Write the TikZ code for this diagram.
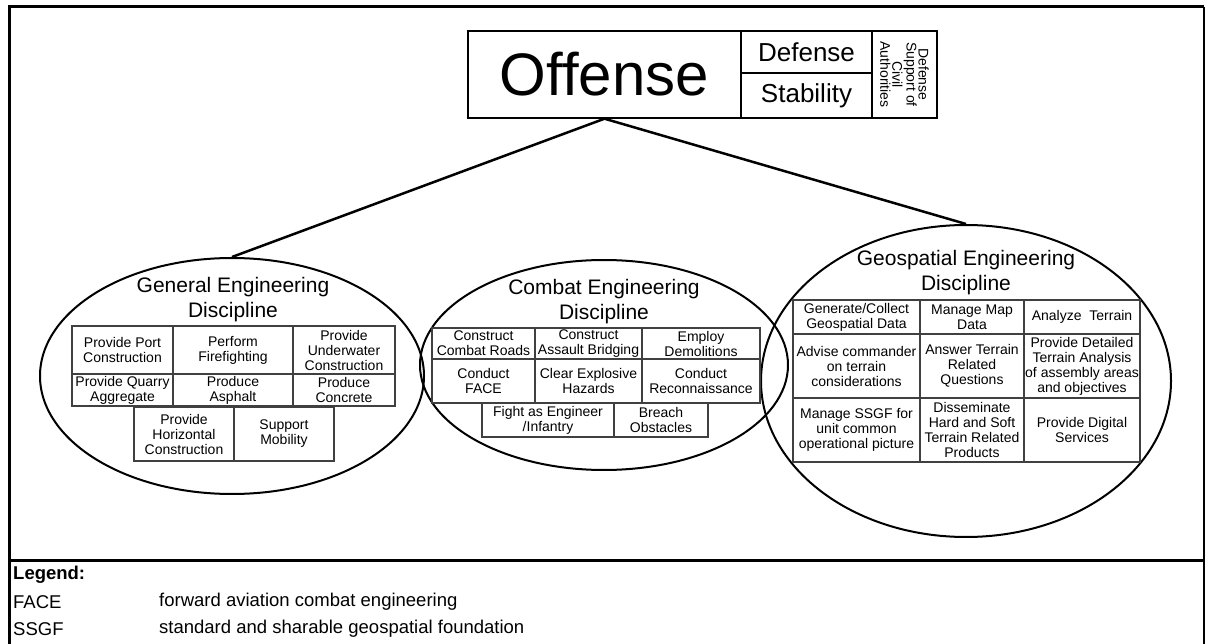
\documentclass[tikz,border=0pt]{standalone}
\usepackage{fontspec}
\setmainfont{Liberation Sans}
\usetikzlibrary{shapes.geometric}

\tikzset{
  disc/.style={draw, ellipse, line width=2pt, inner sep=0pt},
  cell/.style={draw=black!75, line width=1.1pt, inner sep=0pt, align=center,
    font=\fontsize{14}{15}\selectfont},
  topbox/.style={draw, line width=1.4pt, inner sep=0pt, align=center},
  title/.style={align=center, font=\fontsize{21}{25}\selectfont},
  legend/.style={anchor=west, inner sep=0pt, font=\fontsize{18.5}{20}\selectfont},
}

% cell from corner (x1,y1) to (x2,y2)
\newcommand{\cellbox}[6]{%
  \node[cell, minimum width={#4-#2}, minimum height={#5-#3}] (#1)
    at ({(#2+#4)/2},{(#3+#5)/2}) {#6};}

\begin{document}
\begin{tikzpicture}[x=1pt, y=-1pt]
\useasboundingbox (0,0) rectangle (1205,644);

% frame
\draw[line width=3pt] (9,644) -- (9,7) -- (1204,7);
\draw[line width=1.5pt] (1204,7) -- (1204,644);
\draw[line width=3pt] (9,560) -- (1204,560);

% top box
\node[topbox, minimum width=273, minimum height=87, font=\fontsize{60}{62}\selectfont]
  (offense) at (604.5,74.5) {Offense};
\node[topbox, minimum width=131, minimum height=42, font=\fontsize{26}{28}\selectfont]
  (defense) at (806.5,52) {Defense};
\node[topbox, minimum width=131, minimum height=45, font=\fontsize{26}{28}\selectfont]
  (stability) at (806.5,95.5) {Stability};
\node[topbox, rotate=-90, minimum width=87, minimum height=65, font=\fontsize{14}{12}\selectfont]
  (dsca) at (904.5,74.5) {Defense\\Support of\\Civil\\Authorities};

% disciplines
\node[disc, minimum width=384, minimum height=236] (general) at (232,376) {};
\node[disc, minimum width=368, minimum height=210] (combat) at (604,365) {};
\node[disc, minimum width=410, minimum height=312] (geo) at (966,381) {};

\draw[line width=2.5pt] (offense.south) -- (general.north);
\draw[line width=2.5pt] (offense.south) -- (geo.north);

% general engineering
\node[title] (gentitle) at (233,300) {General Engineering\\Discipline};
\cellbox{gen1}{72}{326}{173}{374}{Provide Port\\Construction}
\cellbox{gen2}{173}{326}{293}{374}{Perform\\Firefighting}
\cellbox{gen3}{293}{326}{395}{374}{Provide\\Underwater\\Construction}
\cellbox{gen4}{72}{374}{173}{406}{Provide Quarry\\Aggregate}
\cellbox{gen5}{173}{374}{293}{406}{Produce\\Asphalt}
\cellbox{gen6}{293}{374}{395}{406}{Produce\\Concrete}
\cellbox{gen7}{134}{407}{234}{461}{Provide\\Horizontal\\Construction}
\cellbox{gen8}{234}{407}{334}{461}{Support\\Mobility}

% combat engineering
\node[title] (comtitle) at (604,302) {Combat Engineering\\Discipline};
\cellbox{com1}{432}{328}{535}{359}{Construct\\Combat Roads}
\cellbox{com2}{535}{328}{642}{359}{Construct\\Assault Bridging}
\cellbox{com3}{642}{328}{760}{359}{Employ\\Demolitions}
\cellbox{com4}{432}{359}{535}{403}{Conduct\\FACE}
\cellbox{com5}{535}{359}{642}{403}{Clear Explosive\\Hazards}
\cellbox{com6}{642}{359}{760}{403}{Conduct\\Reconnaissance}
\cellbox{com7}{482}{403}{614}{437}{Fight as Engineer\\/Infantry}
\cellbox{com8}{614}{403}{708}{437}{Breach\\Obstacles}

% geospatial engineering
\node[title] (geotitle) at (966,273) {Geospatial Engineering\\Discipline};
\cellbox{geo1}{793}{300}{920}{334}{Generate/Collect\\Geospatial Data}
\cellbox{geo2}{920}{300}{1024}{334}{Manage Map\\Data}
\cellbox{geo3}{1024}{300}{1140}{334}{Analyze\ \ Terrain}
\cellbox{geo4}{793}{334}{920}{398}{Advise commander\\on terrain\\considerations}
\cellbox{geo5}{920}{334}{1024}{398}{Answer Terrain\\Related\\Questions}
\cellbox{geo6}{1024}{334}{1140}{398}{Provide Detailed\\Terrain Analysis\\of assembly areas\\and objectives}
\cellbox{geo7}{793}{398}{920}{462}{Manage SSGF for\\unit common\\operational picture}
\cellbox{geo8}{920}{398}{1024}{462}{Disseminate\\Hard and Soft\\Terrain Related\\Products}
\cellbox{geo9}{1024}{398}{1140}{462}{Provide Digital\\Services}

% legend
\node[legend] (leghead) at (13,575) {\textbf{Legend:}};
\node[legend] (face) at (13,602) {FACE};
\node[legend] (facedef) at (159,602) {forward aviation combat engineering};
\node[legend] (ssgf) at (13,629) {SSGF};
\node[legend] (ssgfdef) at (159,629) {standard and sharable geospatial foundation};
\end{tikzpicture}
\end{document}
